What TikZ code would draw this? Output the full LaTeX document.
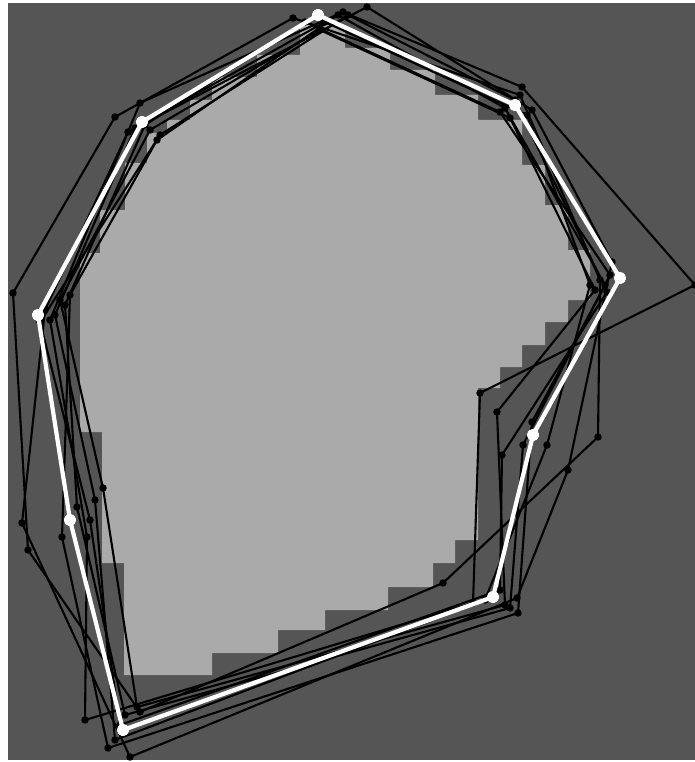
\documentclass[tikz,border=0pt]{standalone}
\definecolor{darkfield}{RGB}{85,85,85}
\definecolor{lightregion}{RGB}{170,170,170}
\begin{document}
\begin{tikzpicture}[x=1pt,y=-1pt,
	guess/.style={black,line width=2.1pt,line join=round},
	final/.style={white,line width=4.2pt,line join=round}]
	\useasboundingbox (0,0) rectangle (695,762);
	\fill[white] (0,0) rectangle (695,762);
	\fill[darkfield] (8,3) rectangle (695,760);
	% pixelated region
	\fill[lightregion] (300,25)--(345,25)--(345,48)--(390,48)--(390,70)--(435,70)--(435,95)--(478,95)--(478,120)--(522,120)--(522,165)--(545,165)--(545,205)--(568,205)--(568,250)--(590,250)--(590,300)--(568,300)--(568,322)--(545,322)--(545,345)--(522,345)--(522,367)--(500,367)--(500,388)--(478,388)--(478,540)--(455,540)--(455,563)--(433,563)--(433,587)--(388,587)--(388,610)--(325,610)--(325,630)--(278,630)--(278,653)--(212,653)--(212,675)--(124,675)--(124,563)--(102,563)--(102,432)--(80,432)--(80,253)--(100,253)--(100,210)--(125,210)--(125,163)--(147,163)--(147,133)--(167,133)--(167,120)--(190,120)--(190,100)--(212,100)--(212,77)--(257,77)--(257,55)--(300,55)--cycle;
	% black outlines
	\draw[guess] plot[mark=*,mark size=2.6pt] coordinates {(293,18) (520,95) (600,280) (598,437) (443,583) (140,712) (28,550) (13,293) (115,117)} -- cycle;
	\draw[guess] plot[mark=*,mark size=2.6pt] coordinates {(343,12) (522,87) (695,285) (480,393) (473,603) (85,720) (87,537) (50,320) (140,103)} -- cycle;
	\draw[guess] plot[mark=*,mark size=2.6pt] coordinates {(367,7) (532,110) (612,262) (568,470) (517,598) (130,757) (22,523) (45,310) (128,132)} -- cycle;
	\draw[guess] plot[mark=*,mark size=2.6pt] coordinates {(338,15) (505,108) (605,285) (532,422) (518,613) (108,748) (62,537) (70,295) (157,140)} -- cycle;
	\draw[guess] plot[mark=*,mark size=2.6pt] coordinates {(320,30) (510,118) (595,290) (497,412) (505,605) (137,707) (103,488) (60,300) (150,130)} -- cycle;
	\draw[guess] plot[mark=*,mark size=2.6pt] coordinates {(305,22) (500,112) (610,275) (523,445) (510,608) (125,715) (77,507) (65,305) (145,125)} -- cycle;
	\draw[guess] plot[mark=*,mark size=2.6pt] coordinates {(325,22) (527,115) (590,285) (547,445) (485,600) (115,740) (95,500) (55,315) (135,128)} -- cycle;
	\draw[guess] plot[mark=*,mark size=2.6pt] coordinates {(348,15) (515,100) (607,292) (502,455) (500,590) (120,725) (90,520) (40,322) (160,135)} -- cycle;
	% white outline
	\draw[final] plot[mark=*,mark size=4pt,mark options={fill=white}] coordinates {(318,15) (515,105) (620,278) (533,435) (493,597) (123,730) (70,520) (38,315) (142,122)} -- cycle;
\end{tikzpicture}
\end{document}
